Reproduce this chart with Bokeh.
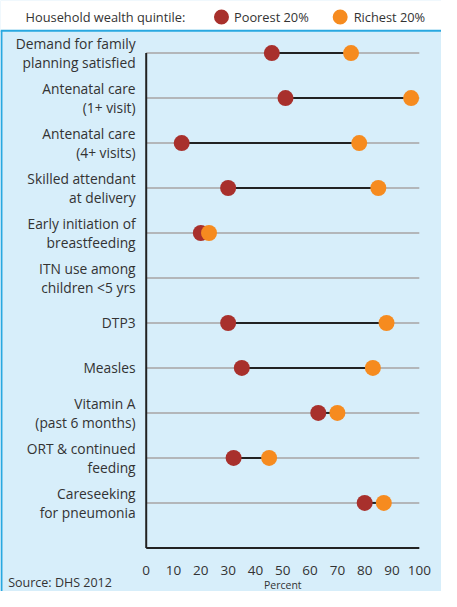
from bokeh.plotting import figure
from bokeh.models import Range1d, ColumnDataSource
from bokeh.embed import file_html
from bokeh.resources import INLINE
from bokeh.core.properties import value

# ---------------- data ----------------
indicators = [
    "Demand for family\nplanning satisfied",
    "Antenatal care\n(1+ visit)",
    "Antenatal care\n(4+ visits)",
    "Skilled attendant\nat delivery",
    "Early initiation of\nbreastfeeding",
    "ITN use among\nchildren <5 yrs",
    "DTP3",
    "Measles",
    "Vitamin A\n(past 6 months)",
    "ORT & continued\nfeeding",
    "Careseeking\nfor pneumonia",
]
poorest = [46, 51, 13, 30, 20, float("nan"), 30, 35, 63, 32, 80]
richest = [75, 97, 78, 85, 23, float("nan"), 88, 83, 70, 45, 87]
x_ticks = [0, 10, 20, 30, 40, 50, 60, 70, 80, 90, 100]
legend_title = "Household wealth quintile:"
series_names = ["Poorest 20%", "Richest 20%"]
axis_title = "Percent"
source_note = "Source: DHS 2012"

# ---------------- style ----------------
BG = "#D7EEFA"
POOR = "#A8302C"
RICH = "#F68B1F"
GRID = "#B3B6B9"
TEXT = "#333333"
EDGE = "#29A8E0"
FONT = value("Open Sans")

W, H = 441, 591
SX, SY = W / 457.0, H / 607.0          # layout designed on a 457x607 sheet
X0 = 151 * SX                            # canvas px of x = 0
K = (434 - 151) * SX / 100.0             # px per percent
Y0 = 54 * SY                             # canvas px of first row
ROW = 46.2 * SY                          # px between rows


def px_x(c):
    return (c * SX - X0) / K


def px_y(c):
    return (c * SY - Y0) / ROW


p = figure(width=W, height=H, output_backend="svg", toolbar_location=None,
           x_range=Range1d(px_x(0), px_x(457)),
           y_range=Range1d(px_y(607), px_y(0)),
           x_axis_location=None, y_axis_location=None,
           min_border=0, tools="")
p.grid.visible = False
p.outline_line_color = None
p.background_fill_color = BG
p.border_fill_color = BG

n = len(indicators)
rows = list(range(n))

# top white strip with the blue rules
p.quad(left=[px_x(0)], right=[px_x(457)], top=[px_y(0)], bottom=[px_y(31)],
       fill_color="white", line_color=None)
p.segment(x0=[px_x(0), px_x(1)], x1=[px_x(457), px_x(1)],
          y0=[px_y(31), px_y(31)], y1=[px_y(31), px_y(607)],
          line_color=EDGE, line_width=2)

# legend
p.text(x=[px_x(26)], y=[px_y(17)], text=[legend_title], text_font=FONT,
       text_font_size="12.8px", text_color=TEXT, text_baseline="middle", text_align="left")
p.scatter(x=[px_x(229), px_x(352)], y=[px_y(17)] * 2, size=15,
          fill_color=[POOR, RICH], line_color=None)
p.text(x=[px_x(242), px_x(366)], y=[px_y(17)] * 2, text=series_names, text_font=FONT,
       text_font_size="12.8px", text_color=TEXT, text_baseline="middle", text_align="left")

# gridlines per row
p.segment(x0=[0] * n, x1=[100] * n, y0=rows, y1=rows, line_color=GRID, line_width=2)

# axis lines
p.segment(x0=[0, 0], x1=[0, 100], y0=[0, n], y1=[n, n], line_color="#222222", line_width=2)

# connectors and dots
src = ColumnDataSource(dict(row=rows, poor=poorest, rich=richest))
p.segment(x0="poor", x1="rich", y0="row", y1="row", source=src,
          line_color="#222222", line_width=2)
p.scatter(x="poor", y="row", source=src, size=16, fill_color=POOR, line_color=None)
p.scatter(x="rich", y="row", source=src, size=16, fill_color=RICH, line_color=None)

# category labels (right aligned, one or two lines)
lx, ly, lt = [], [], []
half = 9.3 / ROW
for r, lab in enumerate(indicators):
    parts = lab.split("\n")
    if len(parts) == 1:
        lx.append(px_x(140)); ly.append(r); lt.append(parts[0])
    else:
        lx += [px_x(140)] * 2
        ly += [r - half, r + half]
        lt += parts
p.text(x=lx, y=ly, text=lt, text_font=FONT, text_font_size="13.8px",
       text_color=TEXT, text_align="right", text_baseline="middle")

# x tick labels and axis title
p.text(x=x_ticks, y=[px_y(585)] * len(x_ticks), text=[str(t) for t in x_ticks],
       text_font=FONT, text_font_size="13.5px", text_color=TEXT,
       text_align="center", text_baseline="middle")
p.text(x=[50], y=[px_y(600)], text=[axis_title], text_font=FONT, text_font_size="10.5px",
       text_color=TEXT, text_align="center", text_baseline="middle")

# source
p.text(x=[px_x(8)], y=[px_y(598)], text=[source_note], text_font=FONT,
       text_font_size="12.5px", text_color=TEXT, text_align="left", text_baseline="middle")

open("out.html", "w").write(file_html(p, INLINE))
